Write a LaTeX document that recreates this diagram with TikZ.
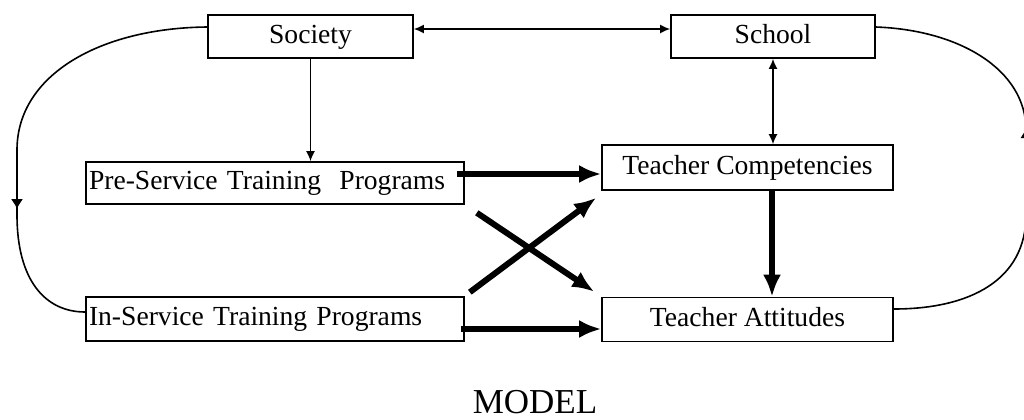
\documentclass[tikz,border=0pt]{standalone}
\usepackage{fontspec}
\setmainfont{Liberation Serif}
\usetikzlibrary{arrows.meta, positioning, decorations.markings}
\tikzset{
  block/.style={draw, line width=0.8pt, inner sep=1.5pt, text height=9.5pt, text depth=3pt,
    font=\fontsize{13.8}{16}\selectfont},
  leftblock/.style={block, text width=#1, align=left},
  thin arrow/.style={-{Latex[length=5pt, width=4.5pt]}, line width=0.8pt},
  heavy arrow/.style={-{Latex[length=11pt, width=9pt]}, line width=3pt},
  loop line/.style={line width=0.8pt, postaction={decorate}},
}

\begin{document}
\begin{tikzpicture}[x=0.5pt, y=-0.5pt]
\clip (0,0) rectangle (1024,419);
\node[block, minimum width=102.5pt, minimum height=21.5pt] (society) at (310.5,36.5) {Society};
\node[block, minimum width=102pt, minimum height=21.5pt] (school) at (773,36.5) {School};
\node[leftblock=186pt, minimum height=21pt] (preservice) at (275,183) {Pre-Service Training~~Programs};
\node[block, minimum width=145.5pt, minimum height=22.5pt] (competencies) at (747.5,167.5) {Teacher Competencies};
\node[leftblock=186pt, minimum height=22pt] (inservice) at (275,319) {In-Service Training Programs};
\node[block, minimum width=145.5pt, minimum height=22pt] (attitudes) at (747.5,319.5) {Teacher Attitudes};
\node[font=\fontsize{17.5}{19}\selectfont, inner sep=1pt] (model) at (535,402) {MODEL};
% thin connectors
\draw[thin arrow, {Latex[length=5pt, width=4.5pt]}-{Latex[length=5pt, width=4.5pt]}] ([yshift=3.75pt]society.east) -- ([yshift=3.75pt]school.west);
\draw[thin arrow] (society.south) -- (society.south |- preservice.north);
\draw[thin arrow, {Latex[length=5pt, width=4.5pt]}-{Latex[length=5pt, width=4.5pt]}] (school.south) -- (school.south |- competencies.north);
% heavy connectors
\draw[heavy arrow] ([xshift=-4pt,yshift=4.5pt]preservice.east) -- ([yshift=4.5pt]preservice.east -| competencies.west);
\draw[heavy arrow] ([xshift=-2pt,yshift=-5pt]inservice.east) -- ([yshift=-5pt]inservice.east -| attitudes.west);
\draw[heavy arrow] ([xshift=6pt,yshift=-4pt]preservice.south east) -- ([xshift=-3.5pt,yshift=2.5pt]attitudes.north west);
\draw[heavy arrow] ([xshift=2.5pt,yshift=2pt]inservice.north east) -- ([xshift=-2.5pt,yshift=-3.5pt]competencies.south west);
\draw[heavy arrow] ([xshift=12.25pt]competencies.south) -- ([xshift=12.25pt]attitudes.north);
% feedback loops
\draw[loop line, decoration={markings, mark=at position 155pt with {\arrow{Latex[length=5pt, width=6pt]}}}]
  ([yshift=4.75pt]society.west) .. controls (100,28) and (17,75) .. (17,150) -- (17,215)
  .. controls (17,280) and (45,312) .. ([yshift=3.5pt]inservice.west);
\draw[loop line, decoration={markings, mark=at position 135pt with {\arrow{Latex[length=5pt, width=6pt]}}}]
  ([yshift=5.25pt]attitudes.east) .. controls (970,309) and (1026,280) .. (1026,215) -- (1026,130)
  .. controls (1026,70) and (960,30) .. ([yshift=4.75pt]school.east);
\end{tikzpicture}
\end{document}
